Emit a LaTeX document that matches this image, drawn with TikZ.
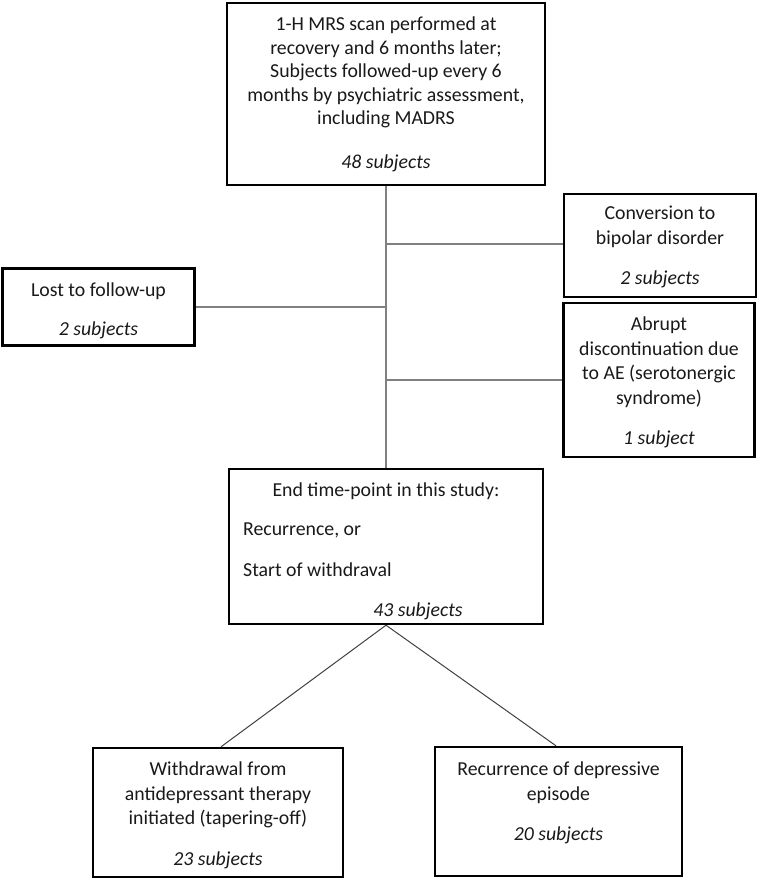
\documentclass[tikz,border=0pt]{standalone}
\usepackage{fontspec}
\setmainfont{Carlito}
\begin{document}
\begin{tikzpicture}[x=1pt,y=-1pt,
  box/.style={draw=black,line width=2.4pt,rectangle,inner sep=0pt},
  txt/.style={align=center,inner sep=0pt,text=black!90,font=\fontsize{19.8}{24.5}\selectfont},
  ltxt/.style={align=left,inner sep=0pt,anchor=west,text=black!90,font=\fontsize{19.8}{24.5}\selectfont},
  conn/.style={draw=black!50,line width=1.5pt},
  diag/.style={draw=black!75,line width=1pt}]
\useasboundingbox (0,0) rectangle (758,880);
% boxes
\node[box,minimum width=318pt,minimum height=182pt] (top) at (386,94) {};
\node[box,minimum width=192pt,minimum height=103pt] (conv) at (660,245.5) {};
\node[box,minimum width=192pt,minimum height=77pt] (lost) at (98.5,307) {};
\node[box,minimum width=191pt,minimum height=154pt] (abr) at (659,380) {};
\node[box,minimum width=314pt,minimum height=155pt] (end) at (386,546.5) {};
\node[box,minimum width=250pt,minimum height=129pt] (wd) at (218,812.5) {};
\node[box,minimum width=247pt,minimum height=129pt] (rec) at (558.5,811.5) {};
% texts
\node[txt,font=\fontsize{19.8}{23.5}\selectfont] (topt) at (386,72.5) {1-H MRS scan performed at\\recovery and 6 months later;\\Subjects followed-up every 6\\months by psychiatric assessment,\\including MADRS};
\node[txt] (topn) at (386,163) {\itshape 48 subjects};
\node[txt] (convt) at (660,227) {Conversion to\\bipolar disorder};
\node[txt] (convn) at (660,279) {\itshape 2 subjects};
\node[txt] (lostt) at (98.5,291) {Lost to follow-up};
\node[txt] (lostn) at (98.5,330) {\itshape 2 subjects};
\node[txt] (abrt) at (659,362) {Abrupt\\discontinuation due\\to AE (serotonergic\\syndrome)};
\node[txt] (abrn) at (659,439) {\itshape 1 subject};
\node[txt] (endt) at (386,491) {End time-point in this study:};
\node[ltxt] (endr) at (243,530) {Recurrence, or};
\node[ltxt] (ends) at (243,570) {Start of withdraval};
\node[txt] (endn) at (418,611) {\itshape 43 subjects};
\node[txt] (wdt) at (218,795) {Withdrawal from\\antidepressant therapy\\initiated (tapering-off)};
\node[txt] (wdn) at (218,860) {\itshape 23 subjects};
\node[txt] (rect) at (558.5,782.5) {Recurrence of depressive\\episode};
\node[txt] (recn) at (558.5,835) {\itshape 20 subjects};
% junction coordinates
\coordinate (jconv) at (386,244);
\coordinate (jlost) at (386,307);
\coordinate (jabr) at (386,380);
% connectors
\draw[conn] (top.south) -- (end.north);
\draw[conn] (jconv) -- (conv.west |- jconv);
\draw[conn] (jlost) -- (lost.east |- jlost);
\draw[conn] (jabr) -- (abr.west |- jabr);
\draw[diag] (end.south) -- (wd.north -| 221,0);
\draw[diag] (end.south) -- (rec.north -| 556,0);
\end{tikzpicture}
\end{document}
